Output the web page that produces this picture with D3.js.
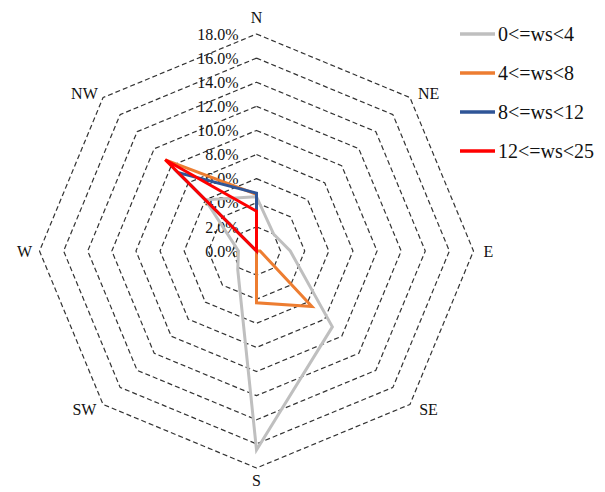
<!DOCTYPE html>
<html>
<head>
  <meta charset="utf-8" />
  <style>
    body { margin: 0; background: #fff; }
    text { font-family: "Liberation Serif", "Times New Roman", serif; fill: #111; }
    .ring { fill: none; stroke: #333; stroke-width: 1.2; stroke-dasharray: 5,3; stroke-linejoin: round; }
    .series { fill: none; stroke-width: 3; stroke-linejoin: miter; }
  </style>
</head>
<body>
  <svg id="container" width="605" height="492"></svg>
  <script src="https://cdn.jsdelivr.net/npm/d3@7/dist/d3.min.js"></script>
<script>
var directions = ['N', 'NE', 'E', 'SE', 'S', 'SW', 'W', 'NW'];
var ticks = [0, 2, 4, 6, 8, 10, 12, 14, 16, 18];
var seriesNames = ['0<=ws<4', '4<=ws<8', '8<=ws<12', '12<=ws<25'];
var seriesColors = ['#bfbfbf', '#ed7d31', '#2f5597', '#ff0000'];
// percent per direction, N clockwise to NW
var ws0to4 = [4.5, 2.0, 2.8, 8.9, 16.5, 2.2, 1.5, 6.0];
var ws4to8 = [4.7, 0, 0.3, 6.5, 4.3, 0, 0, 10.7];
var ws8to12 = [4.8, 0, 0, 0, 0, 0, 0, 9.2];
var ws12to25 = [3.3, 0, 0, 0, 0, 0, 0, 10.7];
var series = [ws0to4, ws4to8, ws8to12, ws12to25];

var cx = 256.5, cy = 251, R = 217;
var svg = d3.select('#container');
var r = d3.scaleLinear().domain([0, 18]).range([0, R]);
var step = 2 * Math.PI / directions.length;

var g = svg.append('g').attr('transform', 'translate(' + cx + ',' + cy + ')');

// dashed octagon rings
var ring = d3.lineRadial()
  .angle(function (d, i) { return i * step; })
  .radius(function (d) { return r(d); })
  .curve(d3.curveLinearClosed);

g.selectAll('.ring')
  .data(ticks.slice(1))
  .enter().append('path')
    .attr('class', 'ring')
    .attr('d', function (t) { return ring(directions.map(function () { return t; })); });

// tick labels along the N axis
g.selectAll('.tick')
  .data(ticks)
  .enter().append('text')
    .attr('x', -18)
    .attr('y', function (t) { return -r(t); })
    .attr('dy', '0.35em')
    .attr('text-anchor', 'end')
    .attr('font-size', 16)
    .text(function (t) { return t.toFixed(1) + '%'; });

// direction labels
g.selectAll('.dir')
  .data(directions)
  .enter().append('text')
    .attr('x', function (d, i) {
      var s = Math.round(Math.sin(i * step) * 100) / 100;
      var cardinal = i % 2 === 0;
      return r(18) * s + (cardinal ? 15 * Math.sign(s) : 18 * Math.sign(s));
    })
    .attr('y', function (d, i) {
      var c = Math.round(Math.cos(i * step) * 100) / 100;
      var cardinal = i % 2 === 0;
      // S sits close to the bottom edge, keep it inside
      var off = cardinal ? (c > 0 ? 17 : 12) : 4;
      return -r(18) * c - off * Math.sign(c);
    })
    .attr('dy', '0.35em')
    .attr('text-anchor', 'middle')
    .attr('font-size', 16)
    .text(function (d) { return d; });

// series lines
g.selectAll('.series')
  .data(series)
  .enter().append('path')
    .attr('class', 'series')
    .attr('stroke', function (d, i) { return seriesColors[i]; })
    .attr('d', ring);

// legend
var legend = svg.selectAll('.legend')
  .data(seriesNames)
  .enter().append('g')
    .attr('transform', function (d, i) { return 'translate(460,' + (34 + i * 39) + ')'; });

legend.append('line')
  .attr('x1', 0).attr('x2', 35)
  .attr('stroke-width', 3.5)
  .attr('stroke', function (d, i) { return seriesColors[i]; });

legend.append('text')
  .attr('x', 38)
  .attr('dy', '0.35em')
  .attr('font-size', 20)
  .text(function (d) { return d; });
</script>
</body>
</html>
